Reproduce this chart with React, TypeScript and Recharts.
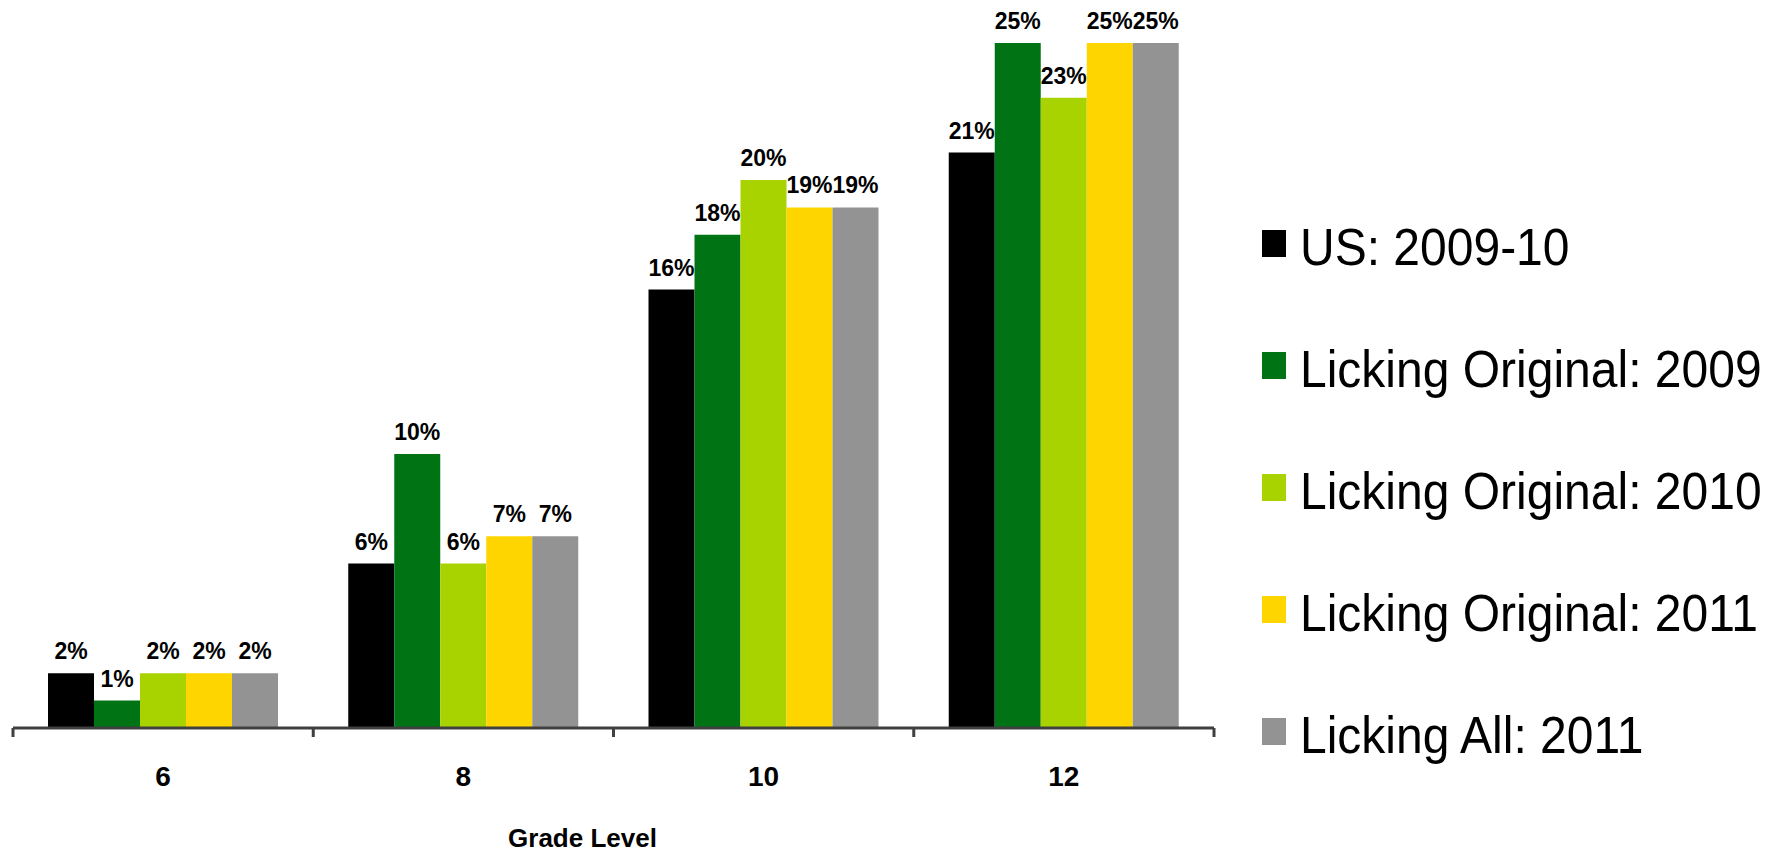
import React from 'react';
import { BarChart, Bar, XAxis, YAxis, Legend, LabelList } from 'recharts';

const grades = ['6', '8', '10', '12'];
const us200910 = [2, 6, 16, 21];
const lickingOrig2009 = [1, 10, 18, 25];
const lickingOrig2010 = [2, 6, 20, 23];
const lickingOrig2011 = [2, 7, 19, 25];
const lickingAll2011 = [2, 7, 19, 25];

const seriesNames = [
  'US: 2009-10',
  'Licking Original: 2009',
  'Licking Original: 2010',
  'Licking Original: 2011',
  'Licking All: 2011',
];
const seriesKeys = ['us', 'lo2009', 'lo2010', 'lo2011', 'la2011'];
const seriesValues = [us200910, lickingOrig2009, lickingOrig2010, lickingOrig2011, lickingAll2011];
const seriesColors = ['#000000', '#007414', '#A8D300', '#FFD500', '#939393'];

const data = grades.map((g, i) => {
  const row: Record<string, string | number> = { grade: g };
  seriesKeys.forEach((k, j) => {
    row[k] = seriesValues[j][i];
  });
  return row;
});

const FONT = '"Liberation Sans", Arial, sans-serif';

const GradeTick = (props: any) => {
  const { x, y, payload, index, visibleTicksCount } = props;
  const half = payload && typeof payload.offset === 'number' ? payload.offset : 0;
  const tickLen = 9;
  const isLast = index === visibleTicksCount - 1;
  return (
    <g>
      <line x1={x - half} x2={x - half} y1={y - tickLen} y2={y} stroke="#404040" strokeWidth={3} />
      {isLast && (
        <line x1={x + half} x2={x + half} y1={y - tickLen} y2={y} stroke="#404040" strokeWidth={3} />
      )}
      <text x={x} y={y + 49} textAnchor="middle" fontSize={28} fontWeight="bold" fontFamily={FONT} fill="#000">
        {payload.value}
      </text>
    </g>
  );
};

const LegendContent = (props: any) => {
  const payload = [...(props.payload || [])].sort(
    (a: any, b: any) => seriesNames.indexOf(a.value) - seriesNames.indexOf(b.value)
  );
  return (
    <div>
      {payload.map((entry: any) => (
        <div key={entry.value} style={{ height: 122.2, display: 'flex', alignItems: 'center' }}>
          <div
            style={{
              width: 24,
              height: 27,
              background: entry.color,
              marginRight: 14,
              marginTop: -9,
              flexShrink: 0,
            }}
          />
          <span
            style={{
              fontSize: 48,
              fontFamily: FONT,
              color: '#000',
              lineHeight: 1,
              whiteSpace: 'nowrap',
              display: 'inline-block',
              transform: 'scale(1, 1.09)',
              transformOrigin: 'left center',
            }}
          >
            {entry.value}
          </span>
        </div>
      ))}
    </div>
  );
};

export default function App() {
  return (
    <div style={{ position: 'absolute', left: 0, top: 0, width: 1780, height: 854, background: '#fff' }}>
      <BarChart
        width={1780}
        height={854}
        data={data}
        margin={{ top: 43, right: 566, bottom: 0, left: 13 }}
        barCategoryGap={35}
        barGap={0}
      >
        <YAxis hide domain={[0, 25]} />
        <XAxis
          dataKey="grade"
          height={126}
          axisLine={{ stroke: '#404040', strokeWidth: 3 }}
          tickLine={false}
          tickSize={9}
          tickMargin={0}
          tick={<GradeTick />}
          interval={0}
          label={{
            value: 'Grade Level',
            position: 'insideBottom',
            offset: 7,
            dx: -31,
            style: { fontSize: 26, fontWeight: 'bold', fontFamily: FONT, fill: '#000' },
          }}
        />
        <Legend
          layout="vertical"
          align="center"
          verticalAlign="middle"
          content={<LegendContent />}
          wrapperStyle={{ left: 1262, top: 186.5, width: 518 }}
        />
        {seriesKeys.map((k, j) => (
          <Bar key={k} dataKey={k} name={seriesNames[j]} fill={seriesColors[j]} isAnimationActive={false}>
            <LabelList
              dataKey={k}
              position="top"
              offset={14}
              formatter={(v: any) => `${v}%`}
              style={{ fontSize: 23, fontWeight: 'bold', fontFamily: FONT, fill: '#000' }}
            />
          </Bar>
        ))}
      </BarChart>
    </div>
  );
}
